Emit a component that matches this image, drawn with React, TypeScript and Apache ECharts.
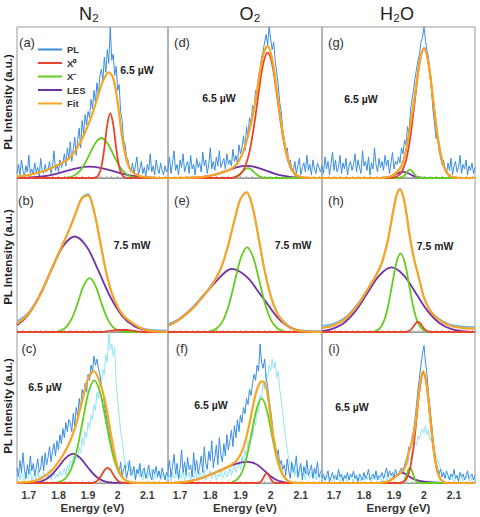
import { useEffect, useRef } from 'react';
import * as echarts from 'echarts';

// ---------- axis / sampling ----------
const X_MIN = 1.66;
const X_MAX = 2.17;
const E_START = 1.66; // first channel of the measured spectra
const E_STEP = 0.005; // channel spacing of the measured spectra
const xTickLabels = [1.7, 1.8, 1.9, 2, 2.1];
const columnTitles = ['N₂', 'O₂', 'H₂O'];
const legendNames = ['PL', 'X⁰', 'X⁻', 'LES', 'Fit'];

type Pair = [number, number];

// ---------- panel (a): N2, 6.5 µW ----------
const plA = [3,9,2,12,5,1,8,4,15,3,6,2,10,4,7,1,13,5,3,9,4,
  6,11,3,8,18,5,9,4,12,7,
  10,16,8,20,13,24,11,19,27,15,
  25,33,20,38,29,42,35,44,
  40,52,46,58,50,63,55,68,
  72,64,80,70,85,76,100,78,
  82,68,74,58,62,44,
  38,25,22,14,12,7,
  4,10,3,8,14,2,6,11,3,7,1,9,5,16,4,8,2,12,6,3,10,5,2,8,4,6];
const x0A: Pair[] = [[1.66,0],[1.92,0],[1.925,0.3],[1.935,1.9],[1.945,7.4],[1.955,19.7],[1.965,35.4],[1.975,43],[1.985,35.4],[1.995,19.7],[2.005,7.4],[2.015,1.9],[2.025,0.3],[2.035,0],[2.17,0]];
const xmA: Pair[] = [[1.66,0],[1.815,0],[1.825,0.2],[1.845,1.0],[1.865,3.2],[1.885,8.1],[1.905,15.7],[1.925,23.2],[1.945,26.5],[1.965,23.2],[1.985,15.7],[2.005,8.1],[2.025,3.2],[2.045,1.0],[2.065,0.2],[2.075,0],[2.17,0]];
const lesA: Pair[] = [[1.66,0.05],[1.705,0.33],[1.745,1.0],[1.785,2.4],[1.825,4.55],[1.865,6.6],[1.905,7.5],[1.945,6.6],[1.985,4.55],[2.025,2.4],[2.065,1.0],[2.105,0.33],[2.145,0.08],[2.17,0]];
const fitA: Pair[] = [[1.66,1],[1.70,2],[1.74,4],[1.77,6],[1.80,9],[1.83,12],[1.86,19],[1.885,28],[1.91,40],[1.93,52],[1.95,64],[1.97,70],[1.985,66],[2.00,50],[2.015,27],[2.03,12],[2.045,5],[2.07,1.5],[2.10,0.5],[2.17,0]];

// ---------- panel (d): O2, 6.5 µW ----------
const plD = [6,14,3,10,18,5,9,2,12,7,16,4,8,11,3,15,6,9,2,13,7,
  10,4,17,8,12,3,9,20,6,11,5,14,8,18,7,10,13,6,16,9,
  12,8,19,11,15,9,22,16,
  20,28,18,34,27,40,36,48,
  45,58,55,68,72,80,84,90,
  95,88,100,92,85,90,
  78,70,62,50,44,32,
  26,18,20,10,12,6,
  4,11,3,8,13,2,7,10,4,15,5,9,2,12,6,3,10,7,4,8];
const x0D: Pair[] = [[1.66,0],[1.87,0],[1.885,0.7],[1.90,2.5],[1.915,7.3],[1.93,17.5],[1.945,34.6],[1.96,56.2],[1.975,75.3],[1.99,83],[2.005,75.3],[2.02,56.2],[2.035,34.6],[2.05,17.5],[2.065,7.3],[2.08,2.5],[2.095,0.7],[2.11,0],[2.17,0]];
const xmD: Pair[] = [[1.66,0],[1.87,0],[1.875,0.3],[1.885,0.9],[1.895,2.1],[1.905,3.9],[1.915,5.7],[1.925,6.5],[1.935,5.7],[1.945,3.9],[1.955,2.1],[1.965,0.9],[1.975,0.3],[1.985,0],[2.17,0]];
const lesD: Pair[] = [[1.66,0],[1.71,0.04],[1.74,0.17],[1.77,0.56],[1.80,1.5],[1.83,3.1],[1.86,5.2],[1.89,7.2],[1.92,8],[1.95,7.2],[1.98,5.2],[2.01,3.1],[2.04,1.5],[2.07,0.56],[2.10,0.17],[2.13,0.04],[2.17,0]];
const fitD: Pair[] = [[1.66,0],[1.70,0.02],[1.74,0.2],[1.77,0.6],[1.80,1.5],[1.83,3.1],[1.86,5.2],[1.875,6.8],[1.89,9.7],[1.905,15.3],[1.915,21],[1.93,31.8],[1.945,45.9],[1.96,64.2],[1.975,81.2],[1.99,87.5],[2.005,78.7],[2.02,58.7],[2.035,36.3],[2.05,18.6],[2.065,8],[2.08,2.9],[2.095,1],[2.11,0.2],[2.17,0]];

// ---------- panel (g): H2O, 6.5 µW ----------
const plG = [8,3,14,6,11,2,9,17,5,12,4,7,15,3,10,6,13,2,8,11,5,
  9,16,4,12,7,3,18,8,11,5,14,2,10,6,20,9,4,13,7,11,
  5,15,8,12,3,10,17,6,11,9,
  14,10,20,16,25,22,
  34,30,45,52,58,66,
  72,78,82,90,93,100,91,84,
  80,68,58,45,36,26,
  28,18,14,9,12,6,
  3,10,5,13,2,8,11,4,7,15,3,9,6,12,2,8,5,10,3,7];
const x0G: Pair[] = [[1.66,0],[1.88,0],[1.895,0.2],[1.91,0.95],[1.925,3.8],[1.94,11.6],[1.955,27.9],[1.97,52.2],[1.985,75.9],[2.00,86],[2.015,75.9],[2.03,52.2],[2.045,27.9],[2.06,11.6],[2.075,3.8],[2.09,0.95],[2.105,0.2],[2.12,0],[2.17,0]];
const xmG: Pair[] = [[1.66,0],[1.915,0],[1.921,0.16],[1.929,0.74],[1.937,2.3],[1.945,4.4],[1.953,5.5],[1.961,4.4],[1.969,2.3],[1.977,0.74],[1.985,0.16],[1.991,0],[2.17,0]];
const lesG: Pair[] = [[1.66,0],[1.85,0],[1.8675,0.18],[1.88,0.54],[1.8925,1.3],[1.905,2.4],[1.9175,3.5],[1.93,4],[1.9425,3.5],[1.955,2.4],[1.9675,1.3],[1.98,0.54],[1.9925,0.18],[2.005,0.04],[2.02,0],[2.17,0]];
const fitG: Pair[] = [[1.66,0],[1.85,0],[1.88,0.6],[1.895,1.7],[1.91,3.9],[1.925,8.1],[1.94,18.4],[1.955,35.7],[1.97,55.3],[1.985,76.4],[2.00,86.1],[2.015,75.9],[2.03,52.2],[2.045,27.9],[2.06,11.6],[2.075,3.8],[2.09,0.95],[2.105,0.2],[2.12,0],[2.17,0]];

// ---------- panel (b): N2, 7.5 mW ----------
const plB: Pair[] = [[1.66,7],[1.70,13],[1.74,25.5],[1.78,42.5],[1.80,51],[1.82,59.5],[1.84,68.5],[1.86,78.5],[1.88,87.5],[1.90,89.5],[1.92,79],[1.94,60],[1.96,40],[1.98,25.5],[2.00,16.5],[2.02,10.5],[2.04,7],[2.06,4.5],[2.08,2.8],[2.10,1.8],[2.13,1.2],[2.17,1]];
const x0B: Pair[] = [[1.66,0],[1.94,0],[1.97,0.5],[2.00,1.3],[2.03,1.3],[2.06,0.5],[2.09,0],[2.17,0]];
const xmB: Pair[] = [[1.66,0],[1.785,0.13],[1.805,0.74],[1.825,3.0],[1.845,8.7],[1.865,18.9],[1.885,30],[1.905,35],[1.925,30],[1.945,18.9],[1.965,8.7],[1.985,3.0],[2.005,0.74],[2.025,0.13],[2.045,0],[2.17,0]];
const lesB: Pair[] = [[1.66,4.5],[1.695,10.5],[1.735,22.9],[1.775,39.8],[1.815,55.5],[1.855,62],[1.895,55.5],[1.935,39.8],[1.975,22.9],[2.015,10.5],[2.055,3.9],[2.095,1.2],[2.135,0.25],[2.17,0]];
const fitB: Pair[] = [[1.66,5.5],[1.70,12],[1.74,24.8],[1.78,42.1],[1.80,50.8],[1.82,59.2],[1.84,67.9],[1.86,77.9],[1.88,86.9],[1.90,88.6],[1.92,78.4],[1.94,59.4],[1.96,39.8],[1.98,25.4],[2.00,16.3],[2.02,10.6],[2.04,7.2],[2.06,4.5],[2.08,2.4],[2.10,1.1],[2.13,0.4],[2.17,0.1]];

// ---------- panel (e): O2, 7.5 mW ----------
const plE: Pair[] = [[1.66,5],[1.70,9.2],[1.74,15.8],[1.78,24.8],[1.80,29.6],[1.82,35.6],[1.84,44],[1.86,57],[1.88,72.6],[1.90,86.5],[1.92,90.9],[1.94,81.2],[1.96,61.2],[1.98,40.2],[2.00,23.8],[2.02,13],[2.04,7.4],[2.06,4],[2.08,2],[2.11,0.9],[2.17,0.6]];
const x0E: Pair[] = [[1.66,0],[2.17,0]];
const xmE: Pair[] = [[1.66,0],[1.79,0],[1.802,0.6],[1.822,2.4],[1.842,7.4],[1.862,17.9],[1.882,33.4],[1.902,48.5],[1.922,55],[1.942,48.5],[1.962,33.4],[1.982,17.9],[2.002,7.4],[2.022,2.4],[2.042,0.6],[2.06,0],[2.17,0]];
const lesE: Pair[] = [[1.66,4],[1.70,8.5],[1.74,15],[1.78,24],[1.82,33],[1.85,39],[1.871,41],[1.90,39],[1.93,34],[1.96,26],[1.99,18],[2.02,10],[2.05,4.5],[2.08,1.5],[2.11,0.4],[2.17,0]];
const fitE: Pair[] = [[1.66,4],[1.70,8.5],[1.74,15],[1.78,24.1],[1.80,29],[1.82,35.1],[1.84,43.7],[1.86,56.8],[1.88,72.4],[1.90,86.3],[1.92,90.7],[1.94,81],[1.96,61],[1.98,39.9],[2.00,23.5],[2.02,12.7],[2.04,7],[2.06,3.5],[2.08,1.5],[2.11,0.4],[2.17,0]];

// ---------- panel (h): H2O, 7.5 mW ----------
const plH: Pair[] = [[1.66,4],[1.70,5.5],[1.74,9.8],[1.78,18.5],[1.80,24.2],[1.82,30.5],[1.84,37],[1.86,45.5],[1.88,60.4],[1.89,70.8],[1.90,81.6],[1.91,90],[1.92,93],[1.93,89],[1.94,79],[1.95,65.6],[1.96,54.2],[1.97,45],[1.98,37.6],[1.99,29.8],[2.00,22.6],[2.02,14.4],[2.04,10.2],[2.06,7.3],[2.08,5.4],[2.10,4.3],[2.13,3.5],[2.17,3.2]];
const x0H: Pair[] = [[1.66,0],[1.94,0],[1.945,0.3],[1.952,0.9],[1.959,2.1],[1.966,3.9],[1.973,5.7],[1.98,6.5],[1.987,5.7],[1.994,3.9],[2.001,2.1],[2.008,0.9],[2.015,0.3],[2.022,0],[2.17,0]];
const xmH: Pair[] = [[1.66,0],[1.83,0],[1.838,0.56],[1.852,2.2],[1.866,6.9],[1.88,16.6],[1.894,31],[1.908,45],[1.922,51],[1.936,45],[1.95,31],[1.964,16.6],[1.978,6.9],[1.992,2.2],[2.006,0.56],[2.02,0],[2.17,0]];
const lesH: Pair[] = [[1.66,0.5],[1.692,1.85],[1.732,5.7],[1.772,13.7],[1.812,25.5],[1.852,37],[1.892,42],[1.932,37],[1.972,25.5],[2.012,13.7],[2.052,5.7],[2.092,1.85],[2.132,0.46],[2.17,0.1]];
const fitH: Pair[] = [[1.66,2.6],[1.70,4.4],[1.74,8.9],[1.78,17.8],[1.80,23.7],[1.82,30.1],[1.84,36.7],[1.86,45.2],[1.88,60.1],[1.89,70.5],[1.90,81.2],[1.91,89.5],[1.92,92.4],[1.93,88.5],[1.94,78.6],[1.95,65.3],[1.96,53.9],[1.97,44.8],[1.98,37.4],[1.99,29.5],[2.00,22.2],[2.02,13.9],[2.04,9.6],[2.06,6.6],[2.08,4.6],[2.10,3.4],[2.13,2.5],[2.17,2.1]];

// ---------- panel (c): N2, 6.5 µW (after) ----------
const plC = [10,4,15,7,20,9,3,12,6,18,8,13,5,10,16,7,
  10,18,8,20,12,17,24,14,21,26,
  18,28,22,32,26,36,30,40,34,42,
  40,34,46,38,50,44,56,49,62,57,
  66,60,72,68,78,74,84,78,82,76,
  72,64,60,52,46,40,
  36,28,24,18,20,14,
  10,6,14,4,9,12,3,8,15,5,7,11,2,9,6,13,4,8,10,3,7,12,5,2,9,6,11,4,8,3,10,6,2,7,5];
const refC = [3,6,2,8,4,1,7,3,5,9,2,4,6,1,8,3,5,2,7,4,6,3,9,2,5,7,3,6,4,8,5,
  6,10,5,12,8,15,10,18,13,20,
  16,24,20,30,25,34,30,40,36,45,
  42,52,48,60,56,68,64,75,72,85,
  80,100,88,92,84,90,
  66,55,45,34,28,20,14,10,
  14,8,11,5,9,3,7,10,4,6,2,8,5,3,7,4,9,2,6,3,5,8,2,4,7,3,5,2];
const x0C: Pair[] = [[1.66,0],[1.90,0],[1.912,0.11],[1.921,0.44],[1.93,1.35],[1.939,3.25],[1.948,6.1],[1.957,8.8],[1.966,10],[1.975,8.8],[1.984,6.1],[1.993,3.25],[2.002,1.35],[2.011,0.44],[2.02,0.11],[2.03,0],[2.17,0]];
const xmC: Pair[] = [[1.66,0],[1.781,0.1],[1.801,0.6],[1.821,2.5],[1.841,8.3],[1.861,20.8],[1.881,40.2],[1.901,59.6],[1.921,68],[1.941,59.6],[1.961,40.2],[1.981,20.8],[2.001,8.3],[2.021,2.5],[2.041,0.6],[2.061,0.1],[2.17,0]];
const lesC: Pair[] = [[1.66,0],[1.699,0.08],[1.724,0.4],[1.749,1.6],[1.774,4.8],[1.799,10.4],[1.824,16.5],[1.849,19.3],[1.874,16.5],[1.899,10.4],[1.924,4.8],[1.949,1.6],[1.974,0.4],[1.999,0.08],[2.02,0],[2.17,0]];
const fitC: Pair[] = [[1.66,0.3],[1.70,0.8],[1.72,1.5],[1.74,3],[1.76,5.5],[1.78,9],[1.80,14],[1.82,20],[1.84,28],[1.86,39],[1.88,54.3],[1.90,69],[1.92,74],[1.94,66.4],[1.96,51.7],[1.98,29.3],[2.00,10.4],[2.02,2.8],[2.04,0.65],[2.06,0.1],[2.17,0]];

// ---------- panel (f): O2, 6.5 µW (after) ----------
const plF = [8,15,4,11,19,6,13,3,10,22,7,14,5,17,9,12,4,20,8,15,6,
  11,18,7,24,13,9,21,15,28,10,17,25,12,30,19,14,
  26,18,32,22,28,35,24,38,30,42,34,45,
  40,50,46,56,52,62,58,66,
  72,68,78,74,92,80,76,82,
  70,64,55,48,40,30,
  26,18,22,12,15,9,
  12,5,16,8,3,14,7,10,18,4,9,13,2,11,6,15,5,8,12,3,10,6,14,4,7,9];
const refF = [2,5,1,7,3,4,8,2,6,3,9,1,5,4,7,2,6,3,8,4,2,7,5,3,9,2,6,4,8,3,5,7,2,6,4,9,3,5,8,4,6,10,5,8,12,7,
  10,14,9,18,13,22,17,28,24,34,
  30,42,38,50,46,58,55,66,62,72,
  70,78,74,82,76,80,70,74,
  62,55,46,38,30,22,16,11,
  8,12,5,9,3,7,10,4,6,2,8,5,3,7,4,9,2,6,3,5,2];
const x0F: Pair[] = [[1.66,0],[1.96,0],[1.962,0.28],[1.967,0.86],[1.972,2.1],[1.977,3.9],[1.982,5.6],[1.987,6.4],[1.992,5.6],[1.997,3.9],[2.002,2.1],[2.007,0.86],[2.012,0.28],[2.02,0],[2.17,0]];
const xmF: Pair[] = [[1.66,0],[1.87,0],[1.874,0.6],[1.89,2.5],[1.906,7.6],[1.922,18.2],[1.938,34],[1.954,49.4],[1.97,56],[1.986,49.4],[2.002,34],[2.018,18.2],[2.034,7.6],[2.05,2.5],[2.066,0.6],[2.08,0],[2.17,0]];
const lesF: Pair[] = [[1.66,0],[1.72,0.8],[1.76,2.5],[1.80,5.5],[1.84,9],[1.87,11.7],[1.90,13.5],[1.92,14],[1.94,13.5],[1.96,11.5],[1.98,8],[2.00,4.5],[2.02,2],[2.04,0.7],[2.06,0.1],[2.17,0]];
const fitF: Pair[] = [[1.66,0],[1.72,0.8],[1.76,2.5],[1.80,5.5],[1.84,9],[1.87,12.1],[1.89,15.5],[1.91,23.5],[1.93,39.5],[1.94,49.6],[1.95,58.7],[1.96,64.8],[1.97,67.3],[1.98,66.3],[1.99,58.5],[2.00,43.4],[2.01,29.3],[2.02,18.5],[2.03,11],[2.04,5.8],[2.05,2.9],[2.06,1.2],[2.08,0.1],[2.17,0]];

// ---------- panel (i): H2O, 6.5 µW (after) ----------
const plI = [3,6,2,5,8,1,4,7,3,5,2,9,4,6,1,5,3,7,2,6,4,8,3,5,1,6,4,2,7,3,5,9,2,4,6,3,8,2,5,4,7,3,6,10,4,8,5,7,4,9,6,
  5,8,10,7,12,15,
  18,24,22,30,35,42,
  52,62,70,78,86,91,80,72,
  58,50,40,30,20,14,
  10,6,9,4,7,3,8,5,2,6,4,9,3,5,1,7,4,6,2,5,8,3,4,6,2,5];
const refI = [2,4,1,3,5,2,3,1,4,2,5,3,1,4,2,3,5,1,2,4,3,1,5,2,3,4,1,3,2,5,2,4,3,1,4,2,5,3,2,4,1,3,5,2,4,3,2,5,3,4,6,
  5,8,6,10,9,13,12,17,15,21,
  22,27,25,31,29,34,
  36,33,38,32,35,28,30,24,
  22,18,16,12,10,8,6,5,
  4,3,5,2,4,1,3,5,2,3,4,1,2,3,5,2,1,3,2,4];
const x0I: Pair[] = [[1.66,0],[1.922,0],[1.932,0.8],[1.943,3.2],[1.954,9.9],[1.965,23.7],[1.976,44.3],[1.987,64.4],[1.998,73],[2.009,64.4],[2.02,44.3],[2.031,23.7],[2.042,9.9],[2.053,3.2],[2.064,0.8],[2.075,0],[2.17,0]];
const xmI: Pair[] = [[1.66,0],[1.918,0],[1.923,0.11],[1.928,0.44],[1.933,1.35],[1.938,3.25],[1.943,6.1],[1.948,8.8],[1.953,10],[1.958,8.8],[1.963,6.1],[1.968,3.25],[1.973,1.35],[1.978,0.44],[1.983,0.11],[1.99,0],[2.17,0]];
const lesI: Pair[] = [[1.66,0],[1.85,0],[1.87,0.5],[1.885,1.5],[1.90,3.5],[1.913,5.6],[1.926,6.8],[1.94,5.8],[1.955,3.8],[1.97,2.2],[1.99,1.2],[2.01,0.7],[2.03,0.4],[2.05,0.2],[2.07,0],[2.17,0]];
const fitI: Pair[] = [[1.66,0],[1.85,0],[1.87,0.5],[1.885,1.5],[1.90,3.5],[1.913,5.6],[1.926,7.4],[1.938,11],[1.948,19.2],[1.958,26.3],[1.968,34.6],[1.978,50.4],[1.988,67.1],[1.998,74.1],[2.009,65.2],[2.02,44.9],[2.031,24.1],[2.042,10.2],[2.053,3.4],[2.064,0.9],[2.075,0],[2.17,0]];

// ---------- styling / layout ----------
const FONT = '"Liberation Sans", Arial, Helvetica, sans-serif';
const C = {
  pl: '#3b8de0',
  plSmooth: '#6db2ee',
  ref: '#92e3f5',
  x0: '#e8442b',
  xm: '#64cc20',
  les: '#7230a6',
  fit: '#f6a623',
  border: '#9a9a9a',
};
const colLeft = [17, 168, 322];
const colW = [151, 154, 153];
const rowTop = [27, 178, 332];
const rowH = [151, 154, 151];

interface PanelDef {
  row: number; col: number; tag: string; power: string;
  pl: number[] | Pair[]; ref?: number[];
  x0: Pair[]; xm: Pair[]; les: Pair[]; fit: Pair[];
  tagXY: [number, number]; powerXY: [number, number];
}

const panels: PanelDef[] = [
  { row: 0, col: 0, tag: '(a)', power: '6.5 µW', pl: plA, x0: x0A, xm: xmA, les: lesA, fit: fitA, tagXY: [27, 42], powerXY: [137, 70] },
  { row: 0, col: 1, tag: '(d)', power: '6.5 µW', pl: plD, x0: x0D, xm: xmD, les: lesD, fit: fitD, tagXY: [182, 42], powerXY: [219, 98] },
  { row: 0, col: 2, tag: '(g)', power: '6.5 µW', pl: plG, x0: x0G, xm: xmG, les: lesG, fit: fitG, tagXY: [336, 42], powerXY: [361, 99] },
  { row: 1, col: 0, tag: '(b)', power: '7.5 mW', pl: plB, x0: x0B, xm: xmB, les: lesB, fit: fitB, tagXY: [26, 200], powerXY: [132, 245] },
  { row: 1, col: 1, tag: '(e)', power: '7.5 mW', pl: plE, x0: x0E, xm: xmE, les: lesE, fit: fitE, tagXY: [182, 200], powerXY: [293, 245] },
  { row: 1, col: 2, tag: '(h)', power: '7.5 mW', pl: plH, x0: x0H, xm: xmH, les: lesH, fit: fitH, tagXY: [336, 200], powerXY: [435, 246] },
  { row: 2, col: 0, tag: '(c)', power: '6.5 µW', pl: plC, ref: refC, x0: x0C, xm: xmC, les: lesC, fit: fitC, tagXY: [29, 348], powerXY: [45, 387] },
  { row: 2, col: 1, tag: '(f)', power: '6.5 µW', pl: plF, ref: refF, x0: x0F, xm: xmF, les: lesF, fit: fitF, tagXY: [182, 348], powerXY: [211, 405] },
  { row: 2, col: 2, tag: '(i)', power: '6.5 µW', pl: plI, ref: refI, x0: x0I, xm: xmI, les: lesI, fit: fitI, tagXY: [334, 348], powerXY: [352, 407] },
];

const channels = (vals: number[]): Pair[] =>
  vals.map((v, i) => [Math.round((E_START + i * E_STEP) * 1000) / 1000, v]);

function buildOption() {
  const grid: any[] = [];
  const xAxis: any[] = [];
  const yAxis: any[] = [];
  const series: any[] = [];
  const graphic: any[] = [];

  panels.forEach((p, g) => {
    grid.push({
      left: colLeft[p.col], top: rowTop[p.row], width: colW[p.col], height: rowH[p.row],
      show: true, borderColor: C.border, borderWidth: 1, backgroundColor: 'transparent',
    });
    const bottom = p.row === 2;
    xAxis.push({
      type: 'value', gridIndex: g, min: X_MIN, max: X_MAX, interval: 0.02,
      axisLine: { show: true, lineStyle: { color: C.border, width: 1 } },
      axisTick: { show: true, inside: true, length: 2, lineStyle: { color: '#b0b0b0' } },
      splitLine: { show: false },
      axisLabel: {
        show: bottom, margin: 6, fontSize: 10.5, fontWeight: 'bold', color: '#3a3a3a', fontFamily: FONT,
        formatter: (v: number) => {
          const r = Math.round(v * 10) / 10;
          return Math.abs(v - r) < 1e-6 && xTickLabels.includes(r) ? String(r) : '';
        },
      },
      name: bottom ? 'Energy (eV)' : '',
      nameLocation: 'middle', nameGap: 19,
      nameTextStyle: { fontSize: 11.5, fontWeight: 'bold', color: '#333', fontFamily: FONT },
    });
    yAxis.push({
      type: 'value', gridIndex: g, min: 0, max: 100,
      axisLine: { show: false }, axisTick: { show: false }, axisLabel: { show: false }, splitLine: { show: false },
    });

    const base = { type: 'line', xAxisIndex: g, yAxisIndex: g, showSymbol: false, symbol: 'none', silent: true, animation: false };
    const noisy = typeof (p.pl as any[])[0] === 'number';
    if (p.ref) {
      series.push({ ...base, name: 'PL ref', color: C.ref, data: channels(p.ref), lineStyle: { color: C.ref, width: 1 } });
    }
    series.push({
      ...base, name: 'PL', color: noisy ? C.pl : C.plSmooth,
      data: noisy ? channels(p.pl as number[]) : p.pl, smooth: noisy ? false : 0.35,
      lineStyle: { color: noisy ? C.pl : C.plSmooth, width: noisy ? 1 : 1.6 },
    });
    series.push({ ...base, name: 'LES', color: C.les, data: p.les, smooth: 0.35, lineStyle: { color: C.les, width: 1.8 } });
    series.push({ ...base, name: 'X⁻', color: C.xm, data: p.xm, smooth: 0.35, lineStyle: { color: C.xm, width: 1.8 } });
    series.push({ ...base, name: 'X⁰', color: C.x0, data: p.x0, smooth: 0.35, lineStyle: { color: C.x0, width: 1.8 } });
    series.push({ ...base, name: 'Fit', color: C.fit, data: p.fit, smooth: 0.35, lineStyle: { color: C.fit, width: 2.2 } });

    graphic.push({
      type: 'text', x: p.tagXY[0], y: p.tagXY[1], silent: true,
      style: { text: p.tag, fill: '#333', font: `13px ${FONT}`, textAlign: 'center', textVerticalAlign: 'middle', verticalAlign: 'middle' },
    });
    graphic.push({
      type: 'text', x: p.powerXY[0], y: p.powerXY[1], silent: true,
      style: { text: p.power, fill: '#222', font: `bold 10.5px ${FONT}`, textAlign: 'center', textVerticalAlign: 'middle', verticalAlign: 'middle' },
    });
  });

  const titleX = [89, 250, 397];
  columnTitles.forEach((t, i) => {
    graphic.push({
      type: 'text', x: titleX[i], y: 14, silent: true,
      style: { text: t, fill: '#222', font: `18px ${FONT}`, textAlign: 'center', textVerticalAlign: 'middle', verticalAlign: 'middle' },
    });
  });
  const yLabelY = [102, 257, 406];
  yLabelY.forEach((y) => {
    graphic.push({
      type: 'text', x: 8, y, rotation: Math.PI / 2, silent: true,
      style: { text: 'PL Intensity (a.u.)', fill: '#222', font: `bold 11.5px ${FONT}`, textAlign: 'center', textVerticalAlign: 'middle', verticalAlign: 'middle' },
    });
  });

  return {
    animation: false,
    backgroundColor: '#ffffff',
    grid, xAxis, yAxis, series, graphic,
    legend: {
      data: legendNames, orient: 'vertical', left: 38, top: 44,
      itemWidth: 24, itemHeight: 2, itemGap: 2.5, icon: 'rect', selectedMode: false,
      padding: 0,
      textStyle: { fontSize: 9.5, fontWeight: 'bold', color: '#333', fontFamily: FONT, lineHeight: 11 },
    },
  };
}

export default function App() {
  const ref = useRef<HTMLDivElement>(null);
  useEffect(() => {
    if (!ref.current) return;
    const chart = echarts.init(ref.current, undefined, { renderer: 'svg' });
    chart.setOption(buildOption() as any);
    return () => chart.dispose();
  }, []);
  return <div ref={ref} style={{ position: 'absolute', left: 0, top: 0, width: 480, height: 517 }} />;
}
